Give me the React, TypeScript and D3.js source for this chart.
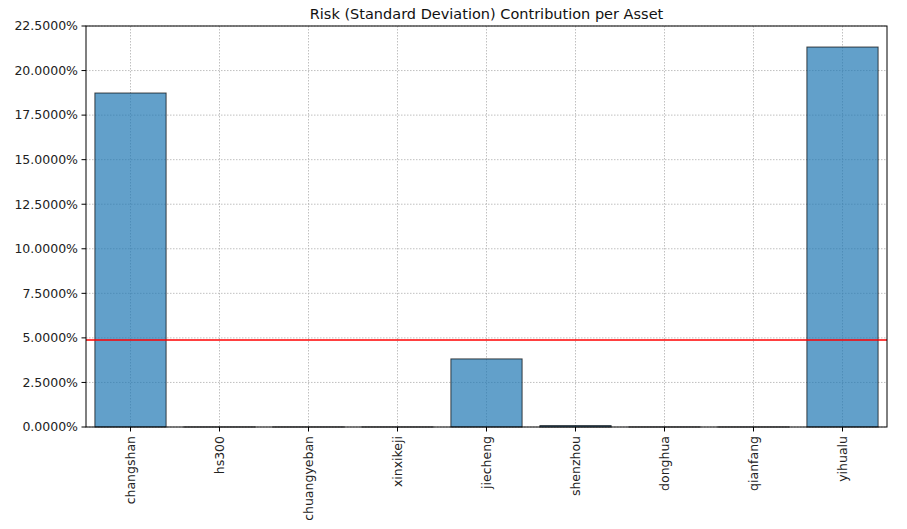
import { useEffect, useRef } from 'react';
import * as d3 from 'd3';

const assets = ['changshan', 'hs300', 'chuangyeban', 'xinxikeji', 'jiecheng', 'shenzhou', 'donghua', 'qianfang', 'yihualu'];
const contributions = [0.1874, 0.00003, 0.00003, 0.00003, 0.0382, 0.0008, 0.00003, 0.00003, 0.2132];
const meanLine = 0.0488;
const yTicks = [0, 0.025, 0.05, 0.075, 0.1, 0.125, 0.15, 0.175, 0.2, 0.225];

const W = 907;
const H = 529;
const margin = { top: 26, right: 20, bottom: 102, left: 86 };

const App = () => {
  const ref = useRef<SVGSVGElement | null>(null);

  useEffect(() => {
    document.body.style.margin = '0';
    if (!ref.current) return;
    const svg = d3.select(ref.current);
    svg.selectAll('*').remove();

    const iw = W - margin.left - margin.right;
    const ih = H - margin.top - margin.bottom;
    const g = svg.append('g').attr('transform', `translate(${margin.left},${margin.top})`);

    const x = d3.scaleLinear().domain([-0.5, assets.length - 0.5]).range([0, iw]);
    const y = d3.scaleLinear().domain([0, 0.225]).range([ih, 0]);

    // grid
    g.append('g').selectAll('line.vg')
      .data(assets)
      .enter().append('line')
      .attr('x1', (_, i) => x(i)).attr('x2', (_, i) => x(i))
      .attr('y1', 0).attr('y2', ih)
      .attr('stroke', '#b0b0b0').attr('stroke-width', 0.8).attr('stroke-dasharray', '1.5,1.5');
    g.append('g').selectAll('line.hg')
      .data(yTicks)
      .enter().append('line')
      .attr('x1', 0).attr('x2', iw)
      .attr('y1', d => y(d)).attr('y2', d => y(d))
      .attr('stroke', '#b0b0b0').attr('stroke-width', 0.8).attr('stroke-dasharray', '1.5,1.5');

    // bars
    const bw = x(0.4) - x(-0.4);
    g.append('g').selectAll('rect')
      .data(contributions)
      .enter().append('rect')
      .attr('x', (_, i) => x(i) - bw / 2)
      .attr('y', d => y(d))
      .attr('width', bw)
      .attr('height', d => ih - y(d))
      .attr('fill', '#1f77b4').attr('fill-opacity', 0.7)
      .attr('stroke', 'black').attr('stroke-opacity', 0.7).attr('stroke-width', 1);

    // mean line
    g.append('line')
      .attr('x1', 0).attr('x2', iw)
      .attr('y1', y(meanLine)).attr('y2', y(meanLine))
      .attr('stroke', 'red').attr('stroke-width', 1.5);

    // frame
    g.append('rect')
      .attr('width', iw).attr('height', ih)
      .attr('fill', 'none').attr('stroke', 'black').attr('stroke-width', 1);

    const font = 'DejaVu Sans, sans-serif';

    // y axis
    const ya = g.append('g');
    yTicks.forEach(t => {
      ya.append('line').attr('x1', -4.5).attr('x2', 0).attr('y1', y(t)).attr('y2', y(t)).attr('stroke', 'black');
      ya.append('text')
        .attr('x', -8).attr('y', y(t)).attr('dy', '0.35em')
        .attr('text-anchor', 'end')
        .style('font-family', font).style('font-size', '12.5px').style('fill', '#222')
        .text(d3.format('.4%')(t));
    });

    // x axis
    const xa = g.append('g').attr('transform', `translate(0,${ih})`);
    assets.forEach((a, i) => {
      xa.append('line').attr('x1', x(i)).attr('x2', x(i)).attr('y1', 0).attr('y2', 4.5).attr('stroke', 'black');
      xa.append('text')
        .attr('transform', `translate(${x(i)},${9}) rotate(-90)`)
        .attr('dy', '0.35em')
        .attr('text-anchor', 'end')
        .style('font-family', font).style('font-size', '12.5px').style('fill', '#222')
        .text(a);
    });

    svg.append('text')
      .attr('x', margin.left + iw / 2).attr('y', 19)
      .attr('text-anchor', 'middle')
      .style('font-family', font).style('font-size', '14.5px').style('fill', '#111')
      .text('Risk (Standard Deviation) Contribution per Asset');
  }, []);

  return <svg ref={ref} width={W} height={H} style={{ display: 'block', background: 'white' }} />;
};

export default App;
